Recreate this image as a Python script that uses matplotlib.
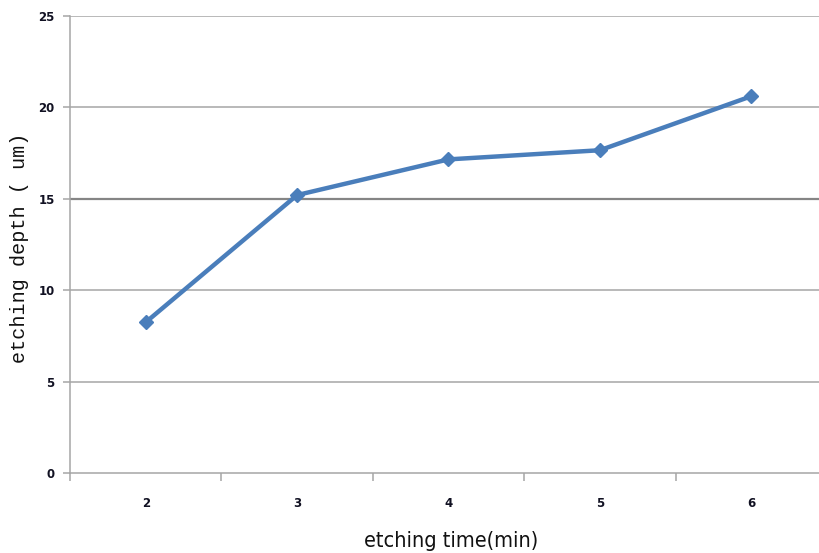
import matplotlib
matplotlib.use("Agg")
import matplotlib.pyplot as plt
import numpy as np

times = ["2", "3", "4", "5", "6"]
depth = [8.25, 15.2, 17.15, 17.65, 20.6]
y_ticks = [0, 5, 10, 15, 20, 25]

W, H = 820, 553
fig = plt.figure(figsize=(W / 100, H / 100), dpi=100)
ax = fig.add_axes([70 / W, (H - 473.3) / H, (827 - 70) / W, (473.3 - 15.7) / H])

x = np.arange(len(times))
ax.set_xlim(-0.5, len(times) - 0.5)
ax.set_ylim(0, 25)

grid_c = "#a6a6a6"
for v in y_ticks[1:]:
    ax.axhline(v, color="#858585" if v == 15 else grid_c,
               lw=1.6 if v == 15 else 1.1, zorder=1)

ax.plot(x, depth, color="#4a7ebb", lw=3.2, marker="D", markersize=7,
        markerfacecolor="#4a7ebb", markeredgecolor="#4a7ebb",
        solid_capstyle="round", zorder=3)

for side in ("top", "right"):
    ax.spines[side].set_visible(False)
for side in ("left", "bottom"):
    ax.spines[side].set_color(grid_c)
    ax.spines[side].set_linewidth(1.1)

ax.set_yticks(y_ticks)
ax.set_yticklabels([str(v) for v in y_ticks])
ax.set_xticks(x)
ax.set_xticklabels(times)
ax.set_xticks(np.arange(-0.5, len(times) - 0.4, 1.0), minor=True)

ax.tick_params(axis="y", length=5, width=1.1, color=grid_c, pad=6,
               labelsize=8.5, labelcolor="#111122")
ax.tick_params(axis="x", which="major", length=0, pad=17,
               labelsize=8.5, labelcolor="#111122")
ax.tick_params(axis="x", which="minor", length=6, width=1.1, color=grid_c)
for lab in ax.get_xticklabels() + ax.get_yticklabels():
    lab.set_fontweight("bold")
    lab.set_family("DejaVu Sans")

fig.text(20 / W, 1 - 248 / H, "etching depth ( um)", rotation=90,
         ha="center", va="center", fontsize=14.5,
         family=["Liberation Mono", "DejaVu Sans Mono"], color="#111111")

fig.text(451 / W, 1 - 541 / H, "etching time(min)", ha="center", va="center",
         fontsize=15.5, family=["Liberation Sans Narrow", "DejaVu Sans"],
         color="#111111", fontstretch="condensed")

fig.savefig("out.png", dpi=100)
